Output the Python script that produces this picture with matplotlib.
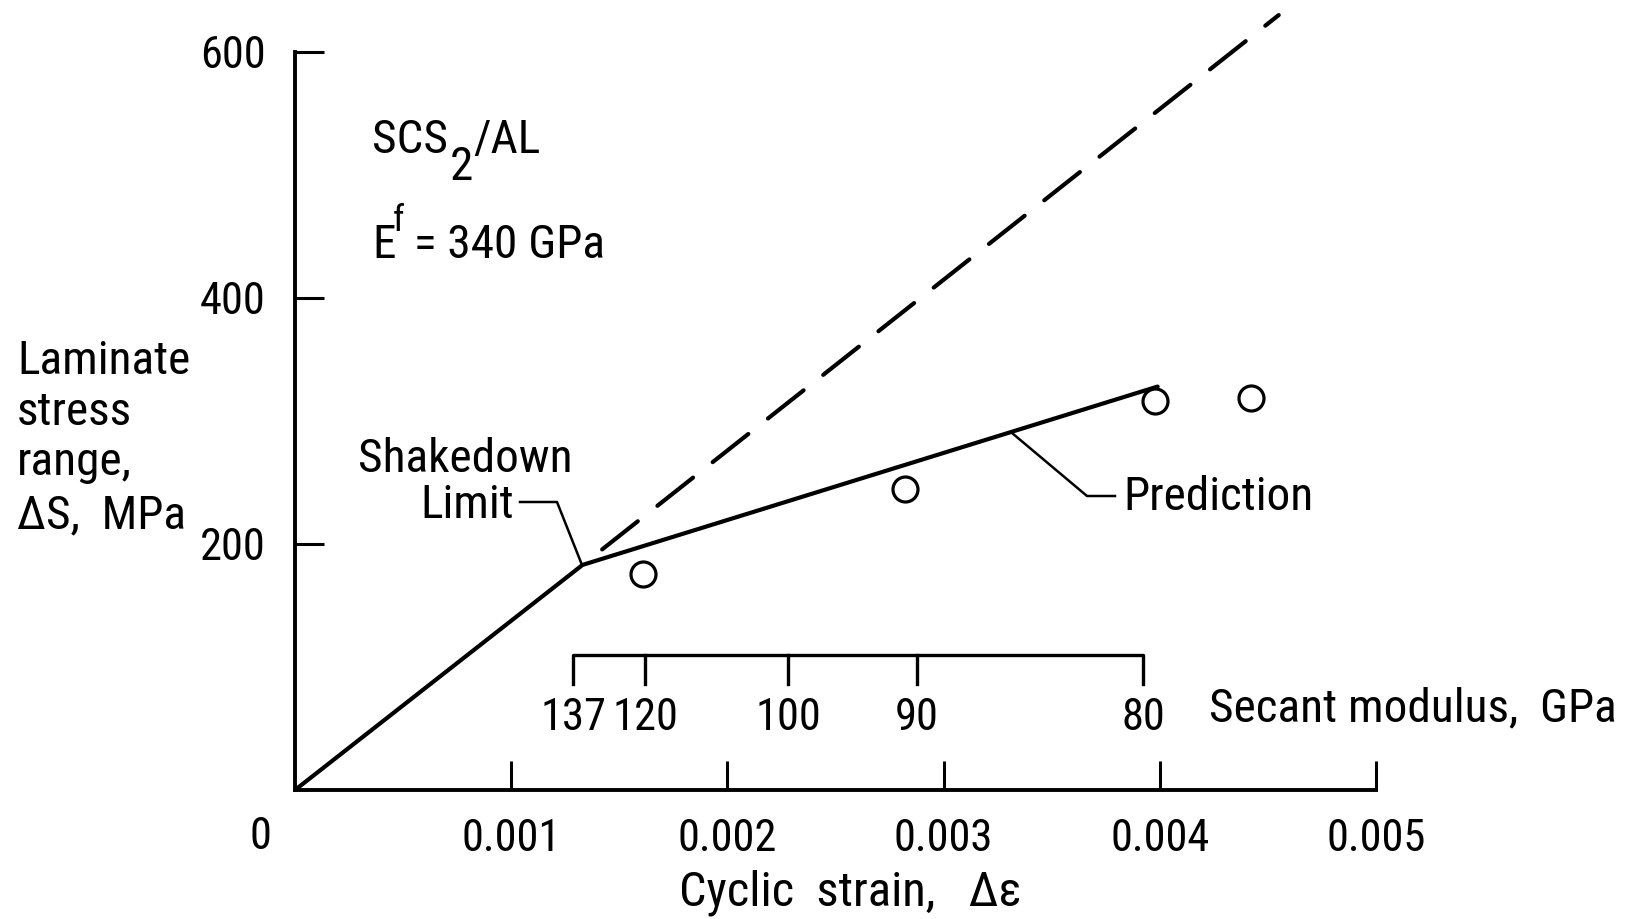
import matplotlib
matplotlib.use("Agg")
import matplotlib.pyplot as plt
from matplotlib import font_manager
from matplotlib.font_manager import FontProperties
from matplotlib.lines import Line2D

# data
test_strain = [0.00161, 0.00282, 0.00398, 0.00442]
test_stress = [176, 245, 316, 319]

pred_strain = [0.0, 0.00133, 0.00399]
pred_stress = [0, 183, 328]

elastic_strain = [0.00133, 0.00455]
elastic_stress = [183, 630]

secant_strain = [0.001286, 0.001619, 0.002280, 0.002877, 0.003922]
secant_labels = ["137", "120", "100", "90", "80"]

x_ticks = [0.001, 0.002, 0.003, 0.004, 0.005]
x_labels = ["0.001", "0.002", "0.003", "0.004", "0.005"]
y_ticks = [200, 400, 600]

# pick a narrow face if one is installed (the original lettering is condensed)
wanted = ["LiberationSansNarrow-Regular", "RobotoCondensed-Regular",
          "NotoSans-Condensed.", "NotoSans-CondensedRegular", "DejaVuSansCondensed.",
          "OpenSans-CondensedRegular", "OpenSans_Condensed-Regular",
          "NotoSans-SemiCondensed."]
files = [f.fname for f in font_manager.fontManager.ttflist]
narrow = None
for w in wanted:
    hits = [p for p in files if w in p.split("/")[-1]]
    if hits:
        narrow = hits[0]
        break


def font(size):
    if narrow:
        return FontProperties(fname=narrow, size=size)
    return FontProperties(family="DejaVu Sans", size=size * 27 / 32)


NUM, TXT = 32, 34
W, H = 1634, 919


def fx(x):
    return x / W


def fy(y):
    return 1 - y / H


fig = plt.figure(figsize=(W / 100, H / 100), dpi=100)
renderer = fig.canvas.get_renderer()
ax = fig.add_axes([fx(295), 129 / H, 0.006 * 216200 / W, 640 * 1.23 / H])
ax.set_xlim(0, 0.006)
ax.set_ylim(0, 640)

for side in ["top", "right"]:
    ax.spines[side].set_visible(False)
ax.spines["left"].set_bounds(0, 600)
ax.spines["bottom"].set_bounds(0, 0.005)
for side in ["left", "bottom"]:
    ax.spines[side].set_linewidth(2.8)

ax.set_xticks(x_ticks)
ax.set_xticklabels(x_labels)
ax.set_yticks(y_ticks)
ax.tick_params(direction="in", length=21, width=2.2)
ax.tick_params(axis="x", pad=20)
ax.tick_params(axis="y", pad=21)
for lab in ax.get_xticklabels() + ax.get_yticklabels():
    lab.set_fontproperties(font(NUM))

# prediction and elastic extension
ax.plot(pred_strain, pred_stress, color="black", lw=3.0, solid_capstyle="round")
ax.plot(elastic_strain, elastic_stress, color="black", lw=3.0,
        linestyle=(10.9, (10.9, 6.0)), dash_capstyle="round", clip_on=False)
ax.plot(test_strain, test_stress, "o", ms=18, mfc="white", mec="black", mew=2.3)

# secant modulus scale
sec_y, sec_tick, sec_lab = 110, 24, 49
ax.plot([secant_strain[0], secant_strain[0], secant_strain[-1], secant_strain[-1]],
        [sec_y - sec_tick, sec_y, sec_y, sec_y - sec_tick], color="black", lw=2.4)
for s in secant_strain[1:-1]:
    ax.plot([s, s], [sec_y, sec_y - sec_tick], color="black", lw=2.4)
for s, lab in zip(secant_strain, secant_labels):
    ax.text(s, sec_lab, lab, ha="center", va="baseline", fontproperties=font(NUM))
fig.text(fx(1209), fy(721), "Secant modulus,  GPa", ha="left", va="baseline",
         fontproperties=font(TXT))


def chain(x, pieces):
    # place pieces one after another, each (text, baseline, size, gap)
    for s, base, size, gap in pieces:
        t = fig.text(fx(x + gap), fy(base), s, ha="left", va="baseline",
                     fontproperties=font(size))
        x = t.get_window_extent(renderer).x1


# annotations
fig.text(fx(260), fy(837), "0", ha="center", va="center", fontproperties=font(NUM))
chain(372, [("SCS", 153, TXT, 0), ("2", 180, TXT, 2), ("/AL", 153, TXT, 0)])
chain(372, [("E", 258, TXT, 0), ("f", 231, 26, -3), ("= 340 GPa", 258, TXT, 10)])

for line, base in zip(["Laminate", "stress", "range,", "ΔS,  MPa"], [374, 425, 475, 528]):
    fig.text(fx(17), fy(base), line, ha="left", va="baseline", fontproperties=font(TXT))

fig.text(fx(465), fy(472), "Shakedown", ha="center", va="baseline", fontproperties=font(TXT))
fig.text(fx(467), fy(518), "Limit", ha="center", va="baseline", fontproperties=font(TXT))
fig.add_artist(Line2D([fx(520), fx(557), fx(582)], [fy(502), fy(502), fy(565)],
                      color="black", lw=1.8))

fig.text(fx(1123), fy(510), "Prediction", ha="left", va="baseline", fontproperties=font(TXT))
fig.add_artist(Line2D([fx(1012), fx(1087), fx(1115)], [fy(433), fy(496), fy(496)],
                      color="black", lw=1.8))

fig.text(fx(850), fy(905), "Cyclic  strain,   Δε", ha="center", va="baseline",
         fontproperties=font(35))

fig.savefig("out.png", dpi=100, facecolor="white")
